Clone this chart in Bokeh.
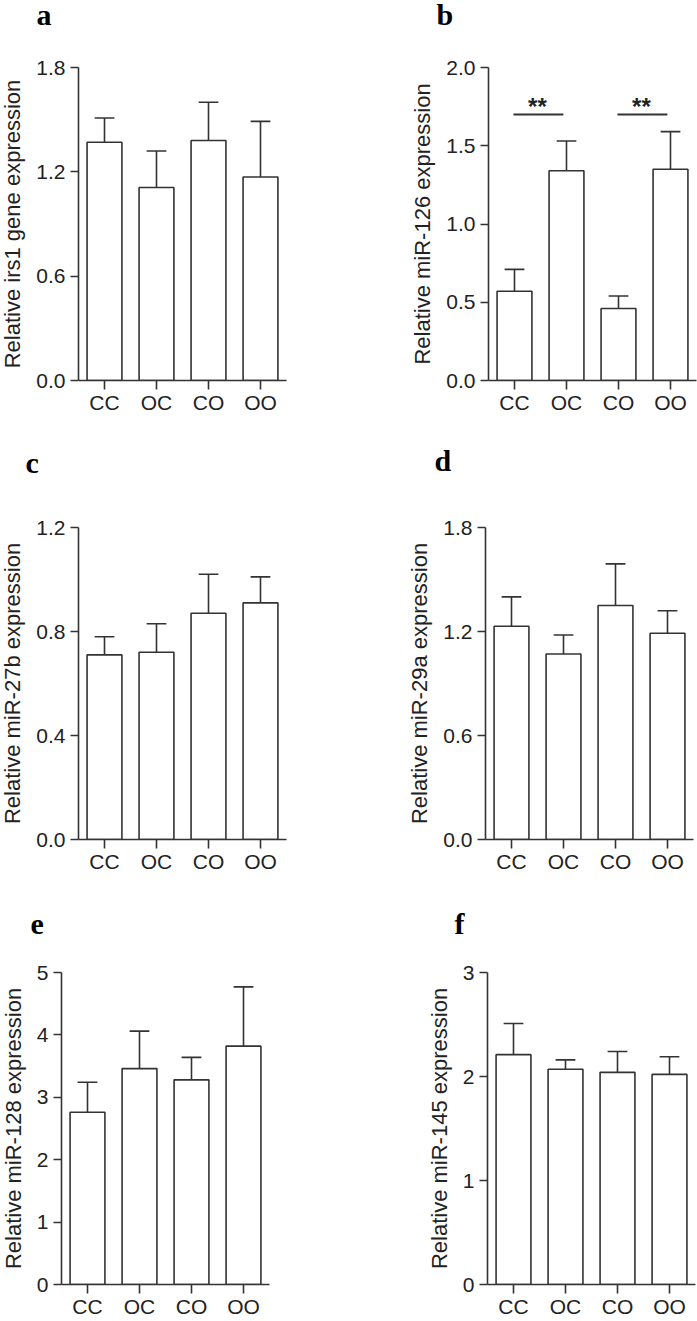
from bokeh.plotting import figure
from bokeh.models import Range1d, FixedTicker, NumeralTickFormatter, ColumnDataSource
from bokeh.layouts import column, row
from bokeh.embed import file_html
from bokeh.resources import INLINE
from bokeh.core.properties import value

# ---------------- data ----------------
groups = ["CC", "OC", "CO", "OO"]

irs1_mean = [1.37, 1.11, 1.38, 1.17]
irs1_sem = [0.14, 0.21, 0.22, 0.32]

mir126_mean = [0.57, 1.34, 0.46, 1.35]
mir126_sem = [0.14, 0.19, 0.08, 0.24]

mir27b_mean = [0.71, 0.72, 0.87, 0.91]
mir27b_sem = [0.07, 0.11, 0.15, 0.10]

mir29a_mean = [1.23, 1.07, 1.35, 1.19]
mir29a_sem = [0.17, 0.11, 0.24, 0.13]

mir128_mean = [2.76, 3.46, 3.28, 3.82]
mir128_sem = [0.48, 0.60, 0.36, 0.95]

mir145_mean = [2.21, 2.07, 2.04, 2.02]
mir145_sem = [0.30, 0.09, 0.20, 0.17]

ticks_a = [0, 0.6, 1.2, 1.8]
ticks_b = [0, 0.5, 1.0, 1.5, 2.0]
ticks_c = [0, 0.4, 0.8, 1.2]
ticks_d = [0, 0.6, 1.2, 1.8]
ticks_e = [0, 1, 2, 3, 4, 5]
ticks_f = [0, 1, 2, 3]

sig_pairs_b = [(1, 2), (3, 4)]
sig_label = "**"
sig_level_b = 1.7

INK = "#333333"
TXT = "#222222"
SANS = "Liberation Sans"
FRAME_W = 208
X0, X1 = 0.5, 4.5
TOP_PAD = 15
STRIP_W = 695


def make_strip(letters, xs, ys, height):
    """Full-width strip above a row of panels holding the bold panel letters
    (pixel coordinates, y pointing down)."""
    h = figure(width=STRIP_W, height=height, x_range=Range1d(0, STRIP_W),
               y_range=Range1d(height, 0), min_border=0, title=None,
               output_backend="svg", toolbar_location=None,
               outline_line_color=None, background_fill_color="white",
               border_fill_color="white")
    h.axis.visible = False
    h.grid.visible = False
    h.text(x=xs, y=ys, text=letters, text_font=value("Liberation Serif"),
           text_font_style="bold", text_font_size="30px", text_color="black",
           text_align="left", text_baseline="alphabetic")
    return h


def make_panel(ylabel, means, sems, ticks, fmt, left, right, bottom, frame_h,
               label_standoff=8):
    xs = list(range(1, len(groups) + 1))
    ymax = ticks[-1]
    p = figure(frame_width=FRAME_W, frame_height=frame_h, title=None,
               min_border_left=left, min_border_right=right,
               min_border_top=TOP_PAD, min_border_bottom=bottom,
               x_range=Range1d(X0, X1), y_range=Range1d(0, ymax),
               output_backend="svg", toolbar_location=None,
               outline_line_color=None, background_fill_color="white",
               border_fill_color="white")
    p.xgrid.visible = False
    p.ygrid.visible = False

    tops = [m + s for m, s in zip(means, sems)]
    src = ColumnDataSource(dict(x=xs, top=means, err=tops,
                                cl=[x - 0.19 for x in xs], cr=[x + 0.19 for x in xs]))
    p.segment(x0="x", y0="top", x1="x", y1="err", source=src,
              line_color=INK, line_width=1.6)
    p.segment(x0="cl", y0="err", x1="cr", y1="err", source=src,
              line_color=INK, line_width=1.6)
    p.vbar(x="x", top="top", bottom=0, width=0.67, source=src,
           fill_color="white", line_color=INK, line_width=1.6)

    p.xaxis.ticker = FixedTicker(ticks=xs)
    p.xaxis.major_label_overrides = {x: g for x, g in zip(xs, groups)}
    p.yaxis.ticker = FixedTicker(ticks=ticks)
    p.yaxis.formatter = NumeralTickFormatter(format=fmt)
    for ax in (p.xaxis, p.yaxis):
        ax.axis_line_color = INK
        ax.axis_line_width = 1.6
        ax.major_tick_line_color = INK
        ax.major_tick_line_width = 1.6
        ax.minor_tick_line_color = None
        ax.major_tick_in = 0
        ax.major_tick_out = 8
        ax.major_label_text_font = SANS
        ax.major_label_text_font_size = "21px"
        ax.major_label_text_color = TXT
    p.xaxis.major_tick_out = 9
    p.xaxis.major_label_standoff = 1
    p.yaxis.major_label_standoff = 5
    p.yaxis.axis_label = ylabel
    p.yaxis.axis_label_text_font = SANS
    p.yaxis.axis_label_text_font_size = "22px"
    p.yaxis.axis_label_text_font_style = "normal"
    p.yaxis.axis_label_text_color = TXT
    p.yaxis.axis_label_standoff = label_standoff
    return p


# panel figures
pa = make_panel("Relative irs1 gene expression", irs1_mean, irs1_sem, ticks_a, "0.0",
                76, 64, 57, 313)
pb = make_panel("Relative miR-126 expression", mir126_mean, mir126_sem, ticks_b, "0.0",
                138, 1, 57, 313)
pc = make_panel("Relative miR-27b expression", mir27b_mean, mir27b_sem, ticks_c, "0.0",
                77, 63, 38, 312)
pd = make_panel("Relative miR-29a expression", mir29a_mean, mir29a_sem, ticks_d, "0.0",
                136, 3, 38, 312)
pe = make_panel("Relative miR-128 expression", mir128_mean, mir128_sem, ticks_e, "0",
                59, 81, 34, 312)
pf = make_panel("Relative miR-145 expression", mir145_mean, mir145_sem, ticks_f, "0",
                137, 2, 34, 312)

# strips with the panel letters
s1 = make_strip(["a", "b"], [39, 439], [17, 17], 70 - TOP_PAD)
s2 = make_strip(["c", "d"], [28, 437], [25, 22.5], 90 - TOP_PAD)
s3 = make_strip(["e", "f"], [33, 457], [47, 46], 95 - TOP_PAD)

# significance bars on panel b
lx0 = [a - 0.02 for a, b in sig_pairs_b]
lx1 = [b - 0.06 for a, b in sig_pairs_b]
ly = [sig_level_b] * len(sig_pairs_b)
pb.segment(x0=lx0, y0=ly, x1=lx1, y1=ly, line_color=INK, line_width=2)
pb.text(x=[(a + b) / 2 - 0.02 for a, b in zip(lx0, lx1)], y=[sig_level_b + 0.05] * len(sig_pairs_b),
        text=[sig_label] * len(sig_pairs_b), text_font=value(SANS), text_font_style="bold",
        text_font_size="24px", text_align="center", text_baseline="alphabetic",
        text_color=TXT)

layout = column(
    s1, row(pa, pb),
    s2, row(pc, pd),
    s3, row(pe, pf),
    margin=(-3, 0, 0, -3),
)

open("out.html", "w").write(file_html(layout, INLINE))
